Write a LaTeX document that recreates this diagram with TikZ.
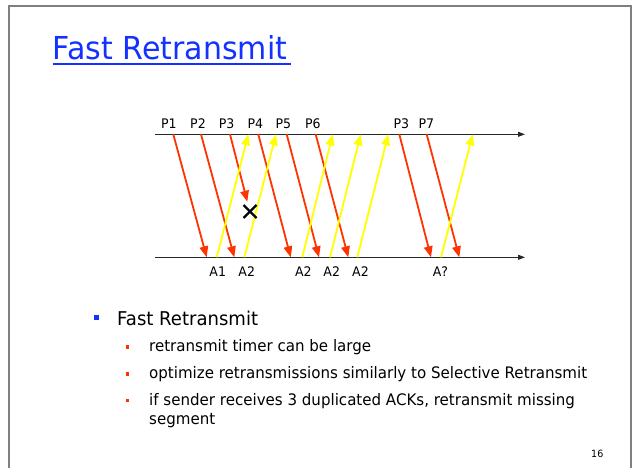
\documentclass[tikz,border=0pt]{standalone}
\usepackage{fontspec}
\setmainfont[FakeStretch=0.95]{DejaVu Sans}
\usetikzlibrary{arrows.meta,calc}
\definecolor{titleblue}{RGB}{20,50,255}
\definecolor{segred}{RGB}{255,51,0}
\definecolor{ackyellow}{RGB}{255,255,0}
\definecolor{framegray}{RGB}{128,128,128}
\definecolor{linegray}{RGB}{40,40,40}
\tikzset{
  segarrow/.style={segred, line width=1.8pt, -{Triangle[length=11pt,width=8.5pt]}},
  ackarrow/.style={ackyellow, line width=1.8pt, -{Triangle[length=11pt,width=8.5pt]}},
  timeline/.style={linegray, line width=0.9pt, -{Triangle[length=7pt,width=5pt]}},
  lbl/.style={font=\fontsize{13.2}{15}\selectfont, anchor=base, inner sep=0pt},
  txt1/.style={font=\fontsize{19}{22}\selectfont, anchor=base west, inner sep=0pt},
  txt2/.style={font=\fontsize{15.85}{19}\selectfont, anchor=base west, inner sep=0pt},
}
\begin{document}
\begin{tikzpicture}[x=1pt,y=-1pt]
\useasboundingbox (0,0) rectangle (632,468);
% frame
\draw[framegray, line width=1.6pt] (9,468) -- (9,6) -- (631,6) -- (631,468);
% title
\node[anchor=base west, inner sep=0pt, text=titleblue, font=\fontsize{31.6}{36}\selectfont] (title) at (52.7,60) {Fast Retransmit};
\draw[titleblue, line width=1.6pt] (title.base west) ++(0,4.3) -- ++(238,0);
% timelines
\coordinate (tl0) at (155,134.3);
\coordinate (tl1) at (525,134.3);
\coordinate (bl0) at (155,257.3);
\coordinate (bl1) at (525,257.3);
\draw[timeline] (tl0) -- (tl1);
\draw[timeline] (bl0) -- (bl1);
% segment arrows (sender -> receiver)
\coordinate (s1) at (173.3,134.3); \coordinate (r1) at (206.7,257.3);
\coordinate (s2) at (201,134.3);   \coordinate (r2) at (234.3,257.3);
\coordinate (s3) at (230,134.3);   \coordinate (r3) at (247.3,201.7);
\coordinate (s4) at (258.3,134.3); \coordinate (r4) at (290.7,257.3);
\coordinate (s5) at (286.7,134.3); \coordinate (r5) at (319,257.3);
\coordinate (s6) at (315.7,134.3); \coordinate (r6) at (348.3,257.3);
\coordinate (s7) at (399.3,134.3); \coordinate (r7) at (431,257.3);
\coordinate (s8) at (426.7,134.3); \coordinate (r8) at (459.3,257.3);
\foreach \i in {1,...,8} {\draw[segarrow] (s\i) -- (r\i);}
% ack arrows (receiver -> sender)
\coordinate (a1) at (216.7,257.3); \coordinate (b1) at (248.3,134.3);
\coordinate (a2) at (244.3,257.3); \coordinate (b2) at (276,134.3);
\coordinate (a3) at (302.3,257.3); \coordinate (b3) at (332.7,134.3);
\coordinate (a4) at (330,257.3);   \coordinate (b4) at (360.7,134.3);
\coordinate (a5) at (357.3,257.3); \coordinate (b5) at (388.3,134.3);
\coordinate (a6) at (441,257.3);   \coordinate (b6) at (472.7,134.3);
\foreach \i in {1,...,6} {\draw[ackarrow] (a\i) -- (b\i);}
% loss mark
\coordinate (x) at (250,211.5);
\draw[black, line width=2.4pt] ($(x)+(-6.5,-6.5)$) -- ($(x)+(6.5,6.5)$);
\draw[black, line width=2.4pt] ($(x)+(6.5,-6.5)$) -- ($(x)+(-6.5,6.5)$);
% labels
\node[lbl] (p1) at (168.8,128.3) {P1};
\node[lbl] (p2) at (198,128.3) {P2};
\node[lbl] (p3) at (226.7,128.3) {P3};
\node[lbl] (p4) at (255.3,128.3) {P4};
\node[lbl] (p5) at (283.3,128.3) {P5};
\node[lbl] (p6) at (312.8,128.3) {P6};
\node[lbl] (p3b) at (401.3,128.3) {P3};
\node[lbl] (p7) at (426.3,128.3) {P7};
\node[lbl] (l1) at (217.7,276) {A1};
\node[lbl] (l2) at (246.7,276) {A2};
\node[lbl] (l3) at (303.3,276) {A2};
\node[lbl] (l4) at (331.7,276) {A2};
\node[lbl] (l5) at (360.5,276) {A2};
\node[lbl] (l6) at (440.5,276) {A?};
% bullets
\fill[titleblue] (94.2,314.5) rectangle ++(5,5);
\node[txt1] (b1t) at (117,325) {Fast Retransmit};
\fill[segred] (125.5,345) rectangle ++(3.8,3.8);
\fill[segred] (125.5,371.8) rectangle ++(3.8,3.8);
\fill[segred] (125.5,398.6) rectangle ++(3.8,3.8);
\node[txt2] (i1) at (149,351.7) {retransmit timer can be large};
\node[txt2] (i2) at (149,378.5) {optimize retransmissions similarly to Selective Retransmit};
\node[txt2] (i3) at (149,405.3) {if sender receives 3 duplicated ACKs, retransmit missing};
\node[txt2] (i4) at (149,424.8) {segment};
\node[anchor=base east, inner sep=0pt, font=\fontsize{10}{12}\selectfont] (pg) at (603.5,457.5) {16};
\end{tikzpicture}
\end{document}
